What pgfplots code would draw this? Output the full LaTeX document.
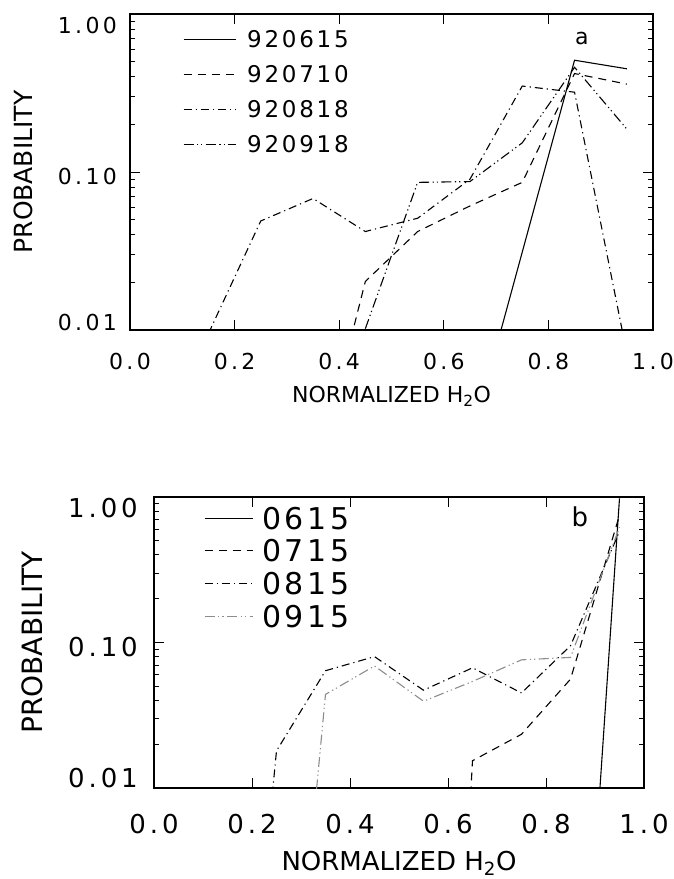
\documentclass[border=0pt]{standalone}
\usepackage{fontspec}
\setmainfont{DejaVu Sans}
\newfontfamily\numfont{DejaVu Sans}[LetterSpace=15]
\newfontfamily\legfont{DejaVu Sans}[LetterSpace=12]
\usepackage{pgfplots}
\pgfplotsset{compat=1.18}
\pgfplotsset{
  dsh/.style={line width=1.1pt, dash pattern=on 8pt off 6pt},
  dd/.style={line width=1.1pt, dash pattern=on 8pt off 4pt on 1.2pt off 4pt},
  ddd/.style={line width=1.1pt, dash pattern=on 10pt off 3.5pt on 1.2pt off 3pt on 1.2pt off 3.5pt},
  sol/.style={line width=1.1pt},
}
\begin{document}
\begin{tikzpicture}
\useasboundingbox (0,0) rectangle (674pt,-879pt);
% ---------------- panel a
\begin{axis}[
  ymode=log, scale only axis, xmin=0, xmax=1, ymin=0.01, ymax=1,
  xtick={0,0.2,0.4,0.6,0.8,1.0},
  xticklabels={0.0,0.2,0.4,0.6,0.8,1.0},
  ytick={0.01,0.1,1},
  axis line style={line width=1.3pt},
  every tick/.style={black, line width=0.9pt},
  major tick length=10pt, minor tick length=5pt,
  at={(130pt,-330pt)}, anchor=south west, width=523pt, height=316pt,
  yticklabels={{\smash{\raisebox{0pt}{0.01}}},{\smash{\raisebox{-12pt}{0.10}}},{\smash{\raisebox{-19pt}{1.00}}}},
  xticklabel style={font=\fontsize{22}{24}\selectfont\numfont, inner sep=0pt, anchor=north, yshift=-23pt},
  yticklabel style={font=\fontsize{22}{24}\selectfont\numfont, inner sep=0pt, anchor=east, xshift=-13pt},
  xlabel={NORMALIZED H\textsubscript{2}O},
  xlabel style={font=\fontsize{22}{24}\selectfont, at={(axis description cs:0.5,-0.228)}, anchor=base},
  ylabel={PROBABILITY},
  ylabel style={font=\fontsize{25}{27}\selectfont, at={(axis description cs:-0.2046,0.5)}, anchor=center},
  legend image code/.code={\draw[#1] (0pt,0pt) -- (52pt,0pt);},
  legend style={draw=none, fill=none, at={(axis description cs:0.101,0.947)}, anchor=north west,
    inner sep=0pt, row sep=18.2pt, font=\fontsize{23}{23}\selectfont\legfont,
    nodes={inner sep=0pt, text height=16.8pt, text depth=0pt},
    /tikz/every odd column/.style={column sep=11pt}},
  legend cell align=left,
]
\addplot[sol] coordinates {(0.65,0.0019) (0.85,0.51) (0.95,0.45)};
\addlegendentry{920615}
\addplot[dsh] coordinates {(0.35,0.001) (0.45,0.0203) (0.55,0.042) (0.65,0.061) (0.75,0.086) (0.85,0.42) (0.95,0.36)};
\addlegendentry{920710}
\addplot[dd] coordinates {(0.15,0.0095) (0.25,0.049) (0.35,0.068) (0.45,0.042) (0.55,0.051) (0.65,0.09) (0.75,0.35) (0.85,0.32) (0.95,0.0071)};
\addlegendentry{920818}
\addplot[ddd] coordinates {(0.45,0.0102) (0.55,0.086) (0.65,0.087) (0.75,0.153) (0.85,0.46) (0.95,0.187)};
\addlegendentry{920918}
\node[font=\fontsize{22}{24}\selectfont] at (axis cs:0.864,0.695) {a};
\end{axis}
% ---------------- panel b
\begin{axis}[
  ymode=log, scale only axis, xmin=0, xmax=1, ymin=0.01, ymax=1,
  xtick={0,0.2,0.4,0.6,0.8,1.0},
  xticklabels={0.0,0.2,0.4,0.6,0.8,1.0},
  ytick={0.01,0.1,1},
  axis line style={line width=1.3pt},
  every tick/.style={black, line width=0.9pt},
  major tick length=10pt, minor tick length=5pt,
  at={(154pt,-788pt)}, anchor=south west, width=490pt, height=291pt,
  yticklabels={{\smash{\raisebox{0.5pt}{0.01}}},{\smash{\raisebox{-13.5pt}{0.10}}},{\smash{\raisebox{-20.5pt}{1.00}}}},
  xticklabel style={font=\fontsize{26}{28}\selectfont\numfont, inner sep=0pt, anchor=north, yshift=-25.5pt},
  yticklabel style={font=\fontsize{26}{28}\selectfont\numfont, inner sep=0pt, anchor=east, xshift=-16pt},
  xlabel={NORMALIZED H\textsubscript{2}O},
  xlabel style={font=\fontsize{26}{28}\selectfont, at={(axis description cs:0.5,-0.282)}, anchor=base},
  ylabel={PROBABILITY},
  ylabel style={font=\fontsize{28}{30}\selectfont, at={(axis description cs:-0.249,0.5)}, anchor=center},
  legend image code/.code={\draw[#1] (0pt,0pt) -- (48pt,0pt);},
  legend style={draw=none, fill=none, at={(axis description cs:0.102,0.966)}, anchor=north west,
    inner sep=0pt, row sep=10.8pt, font=\fontsize{30}{30}\selectfont\legfont,
    nodes={inner sep=0pt, text height=21.9pt, text depth=0pt},
    /tikz/every odd column/.style={column sep=9pt}},
  legend cell align=left,
]
\addplot[sol] coordinates {(0.85,0.00001) (0.95,0.98)};
\addlegendentry{0615}
\addplot[dsh] coordinates {(0.55,0.00000001) (0.65,0.0154) (0.75,0.0234) (0.85,0.056) (0.95,0.75)};
\addlegendentry{0715}
\addplot[dd] coordinates {(0.15,0.000006) (0.25,0.018) (0.35,0.064) (0.45,0.080) (0.55,0.047) (0.65,0.067) (0.75,0.045) (0.85,0.095) (0.95,0.58)};
\addlegendentry{0815}
\addplot[ddd, black!45] coordinates {(0.25,0.000012) (0.35,0.044) (0.45,0.069) (0.55,0.0395) (0.65,0.054) (0.75,0.076) (0.85,0.079) (0.95,0.62)};
\addlegendentry{0915}
\node[font=\fontsize{26}{28}\selectfont] at (axis cs:0.869,0.73) {b};
\end{axis}
\end{tikzpicture}
\end{document}
